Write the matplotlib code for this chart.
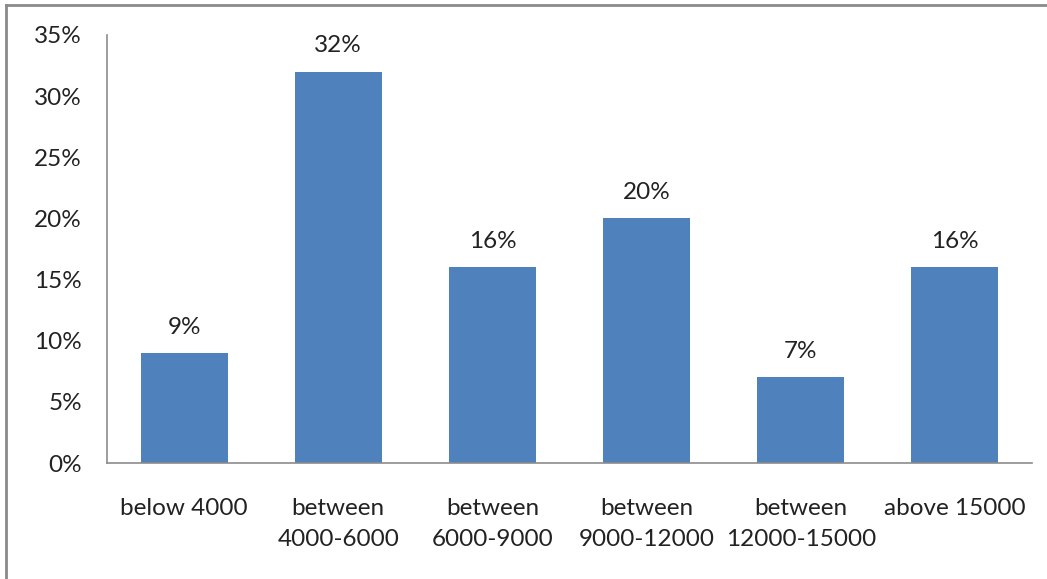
import matplotlib.pyplot as plt
from matplotlib.lines import Line2D
from matplotlib.ticker import PercentFormatter

categories = ['below 4000', 'between\n4000-6000', 'between\n6000-9000',
              'between\n9000-12000', 'between\n12000-15000', 'above 15000']
shares = [9, 32, 16, 20, 7, 16]
y_ticks = [0, 5, 10, 15, 20, 25, 30, 35]

plt.rcParams['font.family'] = ['Lato', 'DejaVu Sans']

fig = plt.figure(figsize=(10.47, 5.79), dpi=100)
ax = fig.add_axes([0.1022, 0.2003, 0.8835, 0.7393])

x = range(len(categories))
bars = ax.bar(x, shares, width=0.565, color='#4F81BD')

for b, v in zip(bars, shares):
    ax.annotate(f'{v}%', (b.get_x() + b.get_width() / 2, v),
                xytext=(0, 11), textcoords='offset points',
                ha='center', va='bottom', fontsize=17.5, color='#222222')

ax.set_xlim(-0.5, len(categories) - 0.5)
ax.set_ylim(0, 35)
ax.set_yticks(y_ticks)
ax.yaxis.set_major_formatter(PercentFormatter(decimals=0))
ax.set_xticks(list(x))
ax.set_xticklabels(categories, linespacing=1.6)
ax.tick_params(axis='y', length=0, pad=18, labelsize=17.5, labelcolor='#222222')
ax.tick_params(axis='x', length=0, pad=25, labelsize=17.5, labelcolor='#222222')

for s in ['top', 'right']:
    ax.spines[s].set_visible(False)
for s in ['left', 'bottom']:
    ax.spines[s].set_color('#8c8c8c')
    ax.spines[s].set_linewidth(1.2)

# frame on the top and left edges of the figure
fig.add_artist(Line2D([6 / 1047, 1], [1 - 5 / 579] * 2,
                      transform=fig.transFigure, color='#8a8a8a', lw=2))
fig.add_artist(Line2D([6 / 1047] * 2, [0, 1 - 5 / 579],
                      transform=fig.transFigure, color='#8a8a8a', lw=2))

fig.savefig('out.png', dpi=100)
